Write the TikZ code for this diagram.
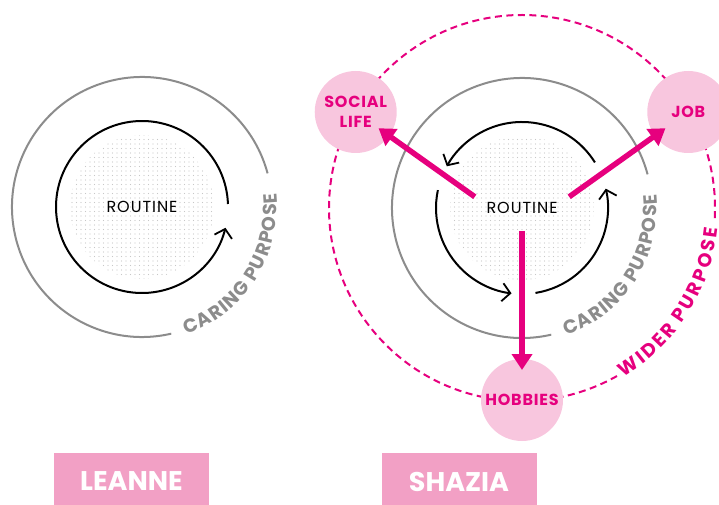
\documentclass[tikz,border=0pt]{standalone}
\usepackage{fontspec}
\setmainfont{Poppins}
\usetikzlibrary{arrows.meta,decorations.text,patterns.meta}
\definecolor{wideMagenta}{RGB}{230,0,126}
\definecolor{bubblePink}{RGB}{248,198,222}
\definecolor{boxPink}{RGB}{242,160,197}
\definecolor{ringGray}{RGB}{140,140,140}

\begin{document}
\begin{tikzpicture}[x=1pt,y=1pt,
  loop/.style={line width=2pt,-{Straight Barb[length=8pt,width=18pt,line width=1.8pt]}},
  ring/.style={draw=ringGray,line width=2pt},
  wider/.style={draw=wideMagenta,line width=2pt,dash pattern=on 7pt off 4.5pt},
  bubble/.style={circle,fill=bubblePink,minimum size=82pt,inner sep=0pt,text=wideMagenta,
    font=\bfseries\fontsize{16}{20}\selectfont\addfontfeature{LetterSpace=5},align=center},
  namebox/.style={fill=boxPink,minimum width=155pt,minimum height=57pt,text=white,
    font=\bfseries\fontsize{27}{27}\selectfont},
  push/.style={draw=wideMagenta,line width=5.5pt,-{Triangle[length=16pt,width=20pt]}},
  routine/.style={font=\fontsize{16}{16}\selectfont\addfontfeature{LetterSpace=6},
    minimum width=94pt,minimum height=22pt,inner sep=0pt},
  dotfill/.style={pattern={Dots[distance=4.5pt,radius=0.55pt]},pattern color=black!22},
  arcword/.style 2 args={decorate,decoration={text effects along path,text={#1},
    text effects/.cd,text along path,fit text to path,
    characters={inner sep=0pt,text=#2,font=\bfseries\fontsize{19}{19}\selectfont}}}
]
\useasboundingbox (0,0) rectangle (719,504);
\coordinate (lc) at (142,297);
\coordinate (rc) at (522,296);

% Leanne
\fill[dotfill] (lc) circle[radius=72pt];
\draw[ring] ([shift={(15:130pt)}]lc) arc[start angle=15,end angle=283,radius=130pt];
\path[arcword={CARING PURPOSE}{ringGray}]
  ([shift={(-71:135pt)}]lc) arc[start angle=-71,end angle=6,radius=135pt];
\draw[loop] ([shift={(2:86pt)}]lc) arc[start angle=2,end angle=346,radius=86pt];
\node[routine] (routineL) at (lc) {ROUTINE};
\node[namebox] (leanne) at (131.5,22.5) {LEANNE};

% Shazia
\draw[wider] ([shift={(-3:193pt)}]rc) arc[start angle=-3,end angle=300,radius=193pt];
\path[arcword={WIDER PURPOSE}{wideMagenta}]
  ([shift={(-59:197pt)}]rc) arc[start angle=-59,end angle=-6,radius=197pt];
\fill[dotfill] (rc) circle[radius=72pt];
\draw[ring] ([shift={(15:130pt)}]rc) arc[start angle=15,end angle=283,radius=130pt];
\path[arcword={CARING PURPOSE}{ringGray}]
  ([shift={(-71:135pt)}]rc) arc[start angle=-71,end angle=6,radius=135pt];
\draw[loop] ([shift={(32:86pt)}]rc) arc[start angle=32,end angle=151,radius=86pt];
\draw[loop] ([shift={(168:86pt)}]rc) arc[start angle=168,end angle=263,radius=86pt];
\draw[loop] ([shift={(279:86pt)}]rc) arc[start angle=279,end angle=373,radius=86pt];
\node[routine] (routineR) at (rc) {ROUTINE};

\node[bubble] (social) at ([shift={(150:192pt)}]rc) {SOCIAL\\LIFE};
\node[bubble] (job) at ([shift={(30:192pt)}]rc) {JOB};
\node[bubble] (hobbies) at ([shift={(270:192pt)}]rc) {HOBBIES};

\draw[push,shorten >=28pt] (routineR.north west) -- (social.center);
\draw[push,shorten >=28pt] (routineR.north east) -- (job.center);
\draw[push,shorten <=12pt,shorten >=30pt] (routineR.south) -- (hobbies.center);

\node[namebox] (shazia) at (459,22.5) {SHAZIA};
\end{tikzpicture}
\end{document}
